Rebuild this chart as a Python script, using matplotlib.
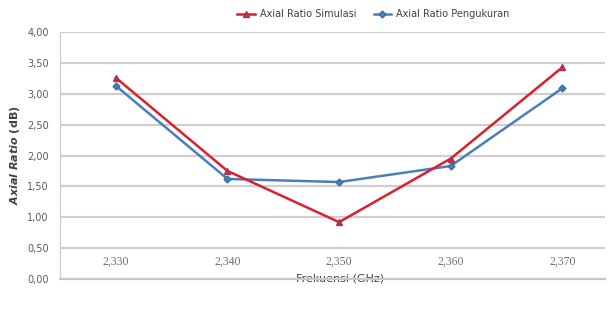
import matplotlib
matplotlib.use("Agg")
import matplotlib.pyplot as plt

frekuensi = ["2,330", "2,340", "2,350", "2,360", "2,370"]
ar_simulasi = [3.26, 1.75, 0.92, 1.95, 3.43]
ar_pengukuran = [3.13, 1.62, 1.57, 1.83, 3.09]
yticks = [0.0, 0.5, 1.0, 1.5, 2.0, 2.5, 3.0, 3.5, 4.0]

plt.rcParams['font.family'] = ['DejaVu Sans']
plt.rcParams['mathtext.fontset'] = 'dejavusans'

fig = plt.figure(figsize=(6.08, 3.18), dpi=100)
ax = fig.add_axes([0.0987, 0.123, 0.896, 0.776])

x = list(range(len(frekuensi)))
ax.plot(x, ar_simulasi, color='#dc1f2b', lw=1.8, marker='^', ms=4.5,
        markeredgecolor='#a8324a', markerfacecolor='#b8364e',
        label='Axial Ratio Simulasi', zorder=3)
ax.plot(x, ar_pengukuran, color='#4a7ebb', lw=1.8, marker='D', ms=3.5,
        markeredgecolor='#3f6fa8', markerfacecolor='#4a7ebb',
        label='Axial Ratio Pengukuran', zorder=2)

ax.set_ylim(0, 4)
ax.set_xlim(-0.5, 4.38)
ax.set_yticks(yticks)
ax.set_yticklabels([f"{v:.2f}".replace('.', ',') for v in yticks])
ax.set_xticks(x)
ax.set_xticklabels(frekuensi, family='Liberation Serif', fontsize=8.5, color='#707070')
ax.tick_params(axis='x', length=0, pad=-17)
ax.tick_params(axis='y', length=0, pad=8, labelsize=7, labelcolor='#5a5a5a')

ax.yaxis.grid(True, color='#cfcfcf', lw=1.6)
ax.set_axisbelow(True)
for s in ['top', 'right']:
    ax.spines[s].set_visible(False)
ax.spines['left'].set_color('#c8c8c8')
ax.spines['bottom'].set_color('#c8c8c8')
ax.spines['bottom'].set_linewidth(1.6)

ax.set_ylabel(r'$\mathbfit{Axial\ Ratio}$ (dB)', fontsize=8, fontweight='bold',
              color='#404040', labelpad=4)
ax.set_xlabel('Frekuensi (GHz)', fontsize=8, color='#404040')
ax.xaxis.set_label_coords(0.514, 0.0, transform=ax.transAxes)
ax.xaxis.label.set_verticalalignment('center')

fig.legend(loc='center', bbox_to_anchor=(0.614, 0.955), ncol=2, frameon=False,
           fontsize=7, handlelength=1.8, handletextpad=0.5, columnspacing=1.8,
           labelcolor='#404040')

fig.savefig('out.png', dpi=100)
